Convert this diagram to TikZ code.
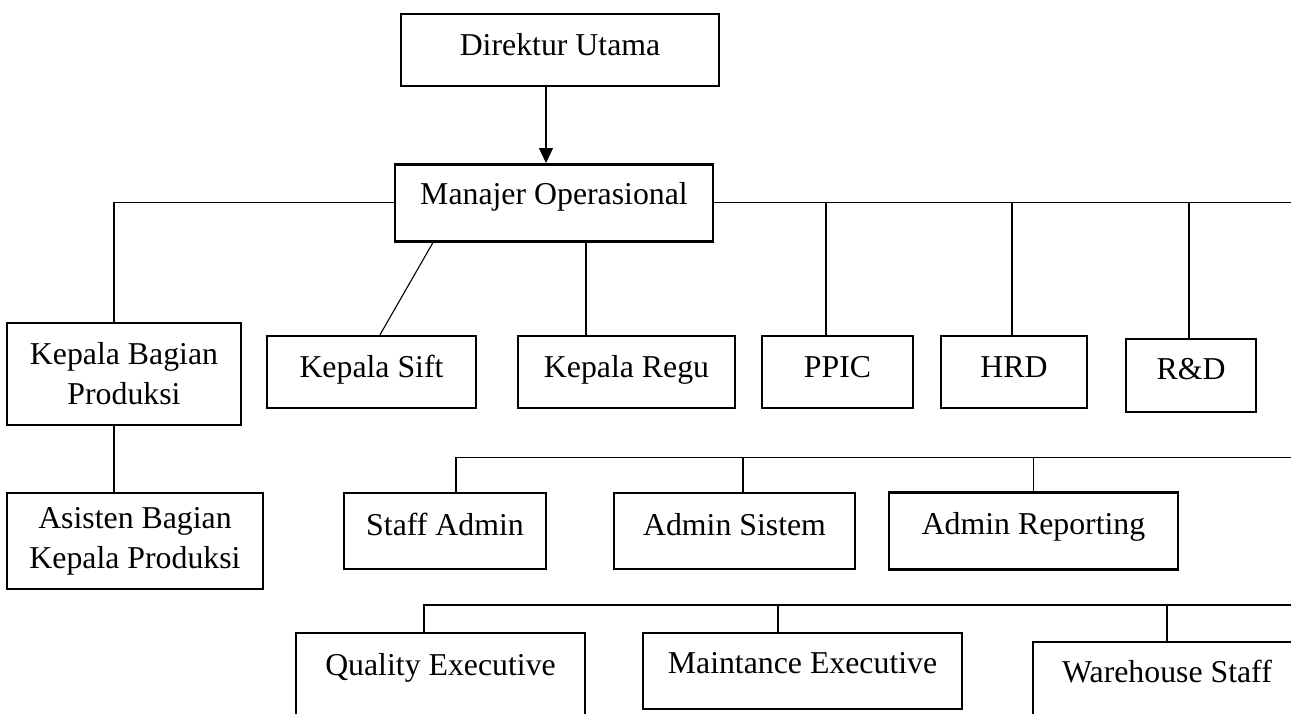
\documentclass[tikz,border=0pt]{standalone}
\usepackage{fontspec}
\setmainfont{Liberation Serif}
\usetikzlibrary{arrows.meta}
\tikzset{
  box/.style={draw=black, line width=1.25pt, rectangle, inner sep=0pt, fill=white,
    font=\fontsize{15.9}{20}\selectfont},
  conn/.style={draw=black, line width=0.55pt},
  arr/.style={conn, -{Triangle[width=7pt,length=7.5pt]}},
}
\begin{document}
\begin{tikzpicture}[x=0.5pt, y=-0.5pt]
\useasboundingbox (0,0) rectangle (1291,713);
\fill[white] (0,0) rectangle (1291,713);
\clip (0,0) rectangle (1291,713);

% free ends at the right margin
\coordinate (redge) at (1300,203);
\coordinate (l2end) at (1300,457.7);
\coordinate (l3end) at (1300,605);

\node[box, minimum width=159pt, minimum height=36pt, text height=15pt, text depth=10pt] (dir) at (560,50) {Direktur Utama};
\node[box, minimum width=159pt, minimum height=38.5pt, text height=11.5pt, text depth=10pt] (man) at (554,202.75) {Manajer Operasional};
\node[box, minimum width=117pt, minimum height=51pt, align=center] (kbp) at (124,374) {Kepala Bagian\\Produksi};
\node[box, minimum width=104.5pt, minimum height=36pt, text height=15pt, text depth=10pt] (ks) at (371.5,372) {Kepala Sift};
\node[box, minimum width=108.5pt, minimum height=36pt, text height=15pt, text depth=10pt] (kr) at (626.5,372) {Kepala Regu};
\node[box, minimum width=75.5pt, minimum height=36pt, text height=15pt, text depth=10pt] (ppic) at (837.5,372) {PPIC};
\node[box, minimum width=73pt, minimum height=36pt, text height=15pt, text depth=10pt] (hrd) at (1014,372) {HRD};
\node[box, minimum width=65pt, minimum height=36.5pt, text height=14pt, text depth=10pt] (rd) at (1191,375.5) {R\&D};
\node[box, minimum width=128pt, minimum height=48pt, align=center] (abkp) at (135,541) {Asisten Bagian\\Kepala Produksi};
\node[box, minimum width=101pt, minimum height=38pt, text height=14pt, text depth=10pt] (sa) at (445,531) {Staff Admin};
\node[box, minimum width=120.5pt, minimum height=38pt, text height=14pt, text depth=10pt] (as) at (734.5,531) {Admin Sistem};
\node[box, minimum width=144.5pt, minimum height=38.5pt, text height=13pt, text depth=10pt] (ar) at (1033.5,531) {Admin Reporting};
\node[box, minimum width=144.5pt, minimum height=53.5pt, text height=8.5pt, text depth=20pt] (qe) at (440.5,686.5) {Quality Executive};
\node[box, minimum width=159.5pt, minimum height=38pt, text height=12pt, text depth=10pt] (me) at (802.5,671) {Maintance Executive};
\node[box, minimum width=134pt, minimum height=49pt, text height=11pt, text depth=20pt] (ws) at (1167,691) {Warehouse Staff};

% arrow
\draw[arr] ([xshift=-7pt]dir.south) -- ([xshift=-7pt]dir.south |- man.north);

% first level
\draw[conn] (man.west) -| ([xshift=-5pt]kbp.north);
\draw[conn] (man.east) -- (man.east -| redge);
\draw[conn] ([xshift=-60.5pt]man.south) -- ([xshift=4.25pt]ks.north);
\draw[conn] ([xshift=-20.25pt]kr.north) -- ([xshift=-20.25pt]kr.north |- man.south);
\draw[conn] ([xshift=-5.75pt]ppic.north) -- ([xshift=-5.75pt]ppic.north |- redge);
\draw[conn] ([xshift=-1pt]hrd.north) -- ([xshift=-1pt]hrd.north |- redge);
\draw[conn] ([xshift=-1pt]rd.north) -- ([xshift=-1pt]rd.north |- redge);

% kepala bagian -> asisten
\draw[conn] ([xshift=-5pt]kbp.south) -- ([xshift=-5pt]kbp.south |- abkp.north);

% second bus
\draw[conn] ([xshift=5.5pt]sa.north) |- (l2end);
\draw[conn] ([xshift=4.25pt]as.north) -- ([xshift=4.25pt]as.north |- l2end);
\draw[conn] (ar.north) -- (ar.north |- l2end);

% third bus
\draw[conn] ([xshift=-8.25pt]qe.north) |- (l3end);
\draw[conn] ([xshift=-12.25pt]me.north) -- ([xshift=-12.25pt]me.north |- l3end);
\draw[conn] (ws.north) -- (ws.north |- l3end);
\end{tikzpicture}
\end{document}
